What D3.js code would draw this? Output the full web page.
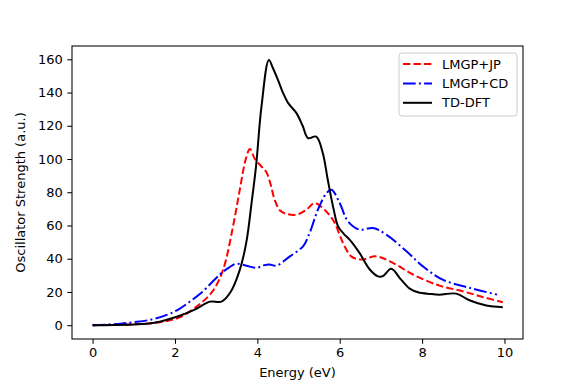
<!DOCTYPE html>
<html>
<head>
<meta charset="utf-8">
<script src="https://cdn.jsdelivr.net/npm/d3@7"></script>
<style>
  body { margin: 0; background: #fff; }
  text { font-family: "DejaVu Sans", sans-serif; }
</style>
</head>
<body>
<div id="chart"></div>
<script>
"use strict";

// series, energy (eV) vs oscillator strength (a.u.)
const tddftX = [0, 0.5, 1, 1.5, 2.08, 2.48, 2.85, 3.13, 3.35, 3.57, 3.73, 3.86, 3.97, 4.1, 4.28, 4.38, 4.5, 4.62, 4.75, 4.95, 5.1, 5.23, 5.43, 5.59, 5.71, 5.85, 5.96, 6.1, 6.24, 6.48, 6.73, 6.93, 7.05, 7.25, 7.49, 7.7, 7.9, 8.2, 8.42, 8.83, 9.15, 9.56, 9.96];
const tddftY = [0, 0.1, 0.4, 1.5, 5.4, 9.4, 14.2, 14.2, 20, 33, 49.5, 73.6, 96, 131.5, 159.6, 154.6, 147.6, 140, 133.6, 127.6, 120, 112.6, 113.5, 103.5, 87.5, 70, 59.5, 55, 51.5, 43.5, 33.5, 29.4, 29.5, 33.9, 27.4, 22, 19.8, 18.8, 18.4, 19, 15, 11.8, 10.8];

const jpX = [0, 0.5, 1, 1.43, 2.08, 2.64, 2.93, 3.17, 3.41, 3.57, 3.72, 3.82, 3.94, 4.1, 4.22, 4.32, 4.42, 4.55, 4.7, 4.95, 5.19, 5.39, 5.59, 5.76, 5.88, 6.08, 6.28, 6.52, 6.89, 7.29, 7.78, 8.42, 8.99, 9.47, 9.96];
const jpY = [0, 0.2, 0.6, 1.2, 4.4, 13.5, 21, 33.5, 59.5, 81, 100, 106, 100, 95.5, 92, 85, 75.5, 69, 67, 66.5, 69.5, 73.5, 70.5, 66, 61.5, 49.5, 41.4, 39.5, 41.4, 37.5, 30.5, 23.8, 20.4, 17, 13.8];

const cdX = [0, 0.62, 1.0, 1.43, 1.8, 2.08, 2.35, 2.64, 3.09, 3.3, 3.49, 3.73, 3.98, 4.15, 4.3, 4.46, 4.79, 5.11, 5.27, 5.47, 5.68, 5.8, 6.0, 6.2, 6.48, 6.81, 7.13, 7.62, 8.02, 8.5, 9.15, 9.82];
const cdY = [0, 0.8, 1.8, 3.4, 6.2, 9.4, 14, 19.5, 30.5, 34.5, 37, 35.8, 34.5, 36, 36.5, 35.8, 41.4, 47.5, 55.5, 69.5, 79.5, 81.5, 73.5, 62.5, 57.5, 58.5, 54.5, 44.5, 35.4, 27.4, 22.5, 18.4];

const seriesNames = ["LMGP+JP", "LMGP+CD", "TD-DFT"];
const xTicks = [0, 2, 4, 6, 8, 10];
const yTicks = [0, 20, 40, 60, 80, 100, 120, 140, 160];

const W = 581, H = 388;
const margin = { left: 72, top: 46, right: 58, bottom: 49 },
      w = W - margin.left - margin.right,
      h = H - margin.top - margin.bottom;

const svg = d3.select("#chart").append("svg")
  .attr("width", W).attr("height", H);

const chart = svg.append("g")
  .attr("transform", "translate(" + margin.left + "," + margin.top + ")");

const x = d3.scaleLinear().domain([-0.5, 10.45]).range([0, w]);
const y = d3.scaleLinear().domain([-8.3, 168]).range([h, 0]);

const line = d3.line()
  .x(function(d) { return x(d[0]); })
  .y(function(d) { return y(d[1]); })
  .curve(d3.curveCatmullRom.alpha(0.5));

const series = [
  { name: seriesNames[0], pts: d3.zip(jpX, jpY), color: "#ff0000", dash: "7.3,3.2" },
  { name: seriesNames[1], pts: d3.zip(cdX, cdY), color: "#0000ff", dash: "12.7,3.2,2,3.2" },
  { name: seriesNames[2], pts: d3.zip(tddftX, tddftY), color: "#000000", dash: null }
];

const clip = svg.append("clipPath").attr("id", "clip")
  .append("rect").attr("width", w).attr("height", h);

chart.append("g").attr("clip-path", "url(#clip)")
  .selectAll("path")
  .data(series)
  .join("path")
    .attr("fill", "none")
    .attr("stroke", function(d) { return d.color; })
    .attr("stroke-width", 2)
    .attr("stroke-dasharray", function(d) { return d.dash; })
    .attr("d", function(d) { return line(d.pts); });

// axes
const xAxis = chart.append("g")
  .attr("transform", "translate(0," + h + ")")
  .call(d3.axisBottom(x).tickValues(xTicks).tickSize(4.7).tickPadding(4.5).tickFormat(d3.format("d")));
const yAxis = chart.append("g")
  .call(d3.axisLeft(y).tickValues(yTicks).tickSize(4.7).tickPadding(4.5).tickFormat(d3.format("d")));

[xAxis, yAxis].forEach(function(a) {
  a.select(".domain").remove();
  a.selectAll("line").attr("stroke", "#000").attr("stroke-width", 1.05);
  a.selectAll("text").attr("fill", "#000").style("font-size", "13px")
    .style("font-family", "'DejaVu Sans', sans-serif");
});

// frame
chart.append("rect")
  .attr("width", w).attr("height", h)
  .attr("fill", "none").attr("stroke", "#000").attr("stroke-width", 1.05);

// axis labels
chart.append("text")
  .attr("x", w / 2).attr("y", h + 38)
  .attr("text-anchor", "middle").style("font-size", "13px")
  .text("Energy (eV)");
chart.append("text")
  .attr("transform", "translate(" + (-47) + "," + (h / 2) + ") rotate(-90)")
  .attr("text-anchor", "middle").style("font-size", "13px")
  .text("Oscillator Strength (a.u.)");

// legend
const legend = chart.append("g")
  .attr("transform", "translate(" + (399 - margin.left) + "," + (53 - margin.top) + ")");
legend.append("rect")
  .attr("width", 118).attr("height", 63).attr("rx", 3)
  .attr("fill", "#fff").attr("fill-opacity", 0.8)
  .attr("stroke", "#cccccc").attr("stroke-width", 1);
const item = legend.selectAll("g.item")
  .data(series)
  .join("g")
    .attr("class", "item")
    .attr("transform", function(d, i) { return "translate(0," + (11 + i * 19.4) + ")"; });
item.append("line")
  .attr("x1", 4).attr("x2", 33)
  .attr("stroke", function(d) { return d.color; })
  .attr("stroke-width", 2)
  .attr("stroke-dasharray", function(d) { return d.dash; });
item.append("text")
  .attr("x", 43).attr("dy", "0.36em")
  .style("font-size", "13px")
  .text(function(d) { return d.name; });
</script>
</body>
</html>
